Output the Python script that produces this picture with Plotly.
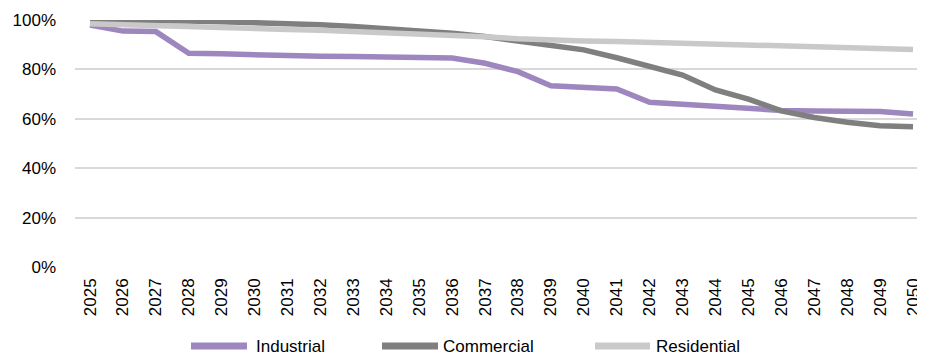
import plotly.graph_objects as go

years = [str(y) for y in range(2025, 2051)]
industrial = [98.0, 95.5, 95.3, 86.5, 86.3, 85.8, 85.5, 85.3, 85.2, 85.0, 84.9, 84.6, 82.5, 79.1, 73.4, 73.0, 72.1, 66.7, 65.9, 65.3, 64.0, 63.4, 63.2, 63.1, 63.0, 61.9]
commercial = [100.0, 100.0, 99.8, 99.6, 99.3, 99.0, 98.6, 98.1, 97.4, 96.6, 95.7, 94.6, 93.3, 91.5, 89.6, 87.9, 84.7, 81.4, 77.7, 71.7, 68.0, 63.2, 60.5, 58.6, 57.2, 56.8]
residential = [98.5, 98.2, 97.7, 97.2, 96.9, 96.6, 96.2, 95.8, 95.3, 94.9, 94.5, 93.9, 93.2, 92.4, 91.8, 91.5, 91.3, 91.0, 90.6, 90.2, 89.8, 89.5, 89.1, 88.8, 88.5, 88.1]
series_names = ["Industrial", "Commercial", "Residential"]
series_colors = ["#9D87BE", "#7F7F7F", "#C9C9C9"]
y_ticks = [0, 20, 40, 60, 80, 100]
y_tick_labels = ["0%", "20%", "40%", "60%", "80%", "100%"]

FONT = "Liberation Sans, Arial, sans-serif"

# figure geometry (page body adds an 8px offset)
W, H = 917, 350
ML, MR, MT, MB = 67, 0, 12, 91
PW, PH = W - ML - MR, H - MT - MB

def px_to_paper_x(px):
    return (px - ML) / PW

def px_to_paper_y(py):
    return (H - MB - py) / PH

fig = go.Figure()
for name, vals, col in zip(series_names, [industrial, commercial, residential], series_colors):
    fig.add_trace(go.Scatter(x=years, y=vals, name=name, mode="lines", showlegend=False,
                             line=dict(color=col, width=5.5, shape="linear")))

# custom legend (long line swatches like the original)
legend_lines = [(183, 239), (374, 430), (587, 642)]
legend_text_x = [246, 433, 646]
legend_y = 338
shapes, annotations = [], []
for (x0, x1), tx, name, col in zip(legend_lines, legend_text_x, series_names, series_colors):
    shapes.append(dict(type="line", xref="paper", yref="paper",
                       x0=px_to_paper_x(x0), x1=px_to_paper_x(x1),
                       y0=px_to_paper_y(legend_y), y1=px_to_paper_y(legend_y),
                       line=dict(color=col, width=7)))
    annotations.append(dict(text=name, xref="paper", yref="paper", x=px_to_paper_x(tx),
                            y=px_to_paper_y(legend_y), xanchor="left", yanchor="middle",
                            showarrow=False, font=dict(family=FONT, size=17, color="#000000")))

fig.update_layout(
    width=W, height=H,
    margin=dict(l=ML, r=MR, t=MT, b=MB),
    plot_bgcolor="white", paper_bgcolor="white",
    font=dict(family=FONT, size=17, color="#000000"),
    showlegend=False,
    shapes=shapes, annotations=annotations,
)
fig.update_xaxes(type="category", range=[-0.456, 25.364], tickangle=-90, automargin=False,
                 showgrid=False, showline=False, ticks="", ticklabelstandoff=7,
                 tickfont=dict(family=FONT, size=17))
fig.update_yaxes(range=[0, 100], tickvals=y_ticks, ticktext=y_tick_labels, automargin=False,
                 showgrid=True, gridcolor="#D9D9D9", gridwidth=2, zeroline=False,
                 ticks="", ticklabelstandoff=18, tickfont=dict(family=FONT, size=17))

fig.write_html("out.html")
